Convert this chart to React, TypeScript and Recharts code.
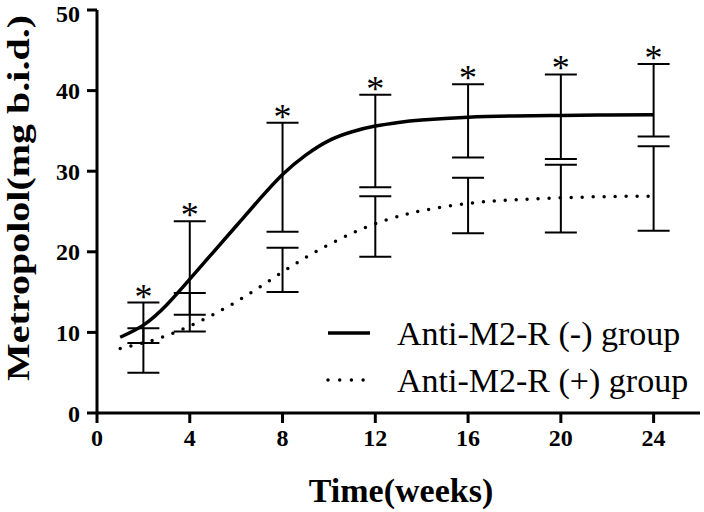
import {
  ComposedChart,
  Line,
  Scatter,
  ErrorBar,
  XAxis,
  YAxis,
  Label,
} from 'recharts';

// fitted curves
const fitWeeks = [1, 2, 3, 4, 5, 6, 7, 8, 9, 10, 11, 12, 13, 14, 16, 18, 20, 22, 24];
const negFit = [9.4, 10.9, 13.4, 16.6, 19.9, 23.2, 26.5, 29.6, 32.0, 33.8, 34.9, 35.6, 36.05, 36.35, 36.7, 36.85, 36.92, 36.97, 37.0];
const posFit = [8.0, 8.7, 9.6, 10.8, 12.2, 13.8, 15.6, 17.5, 19.3, 20.9, 22.3, 23.5, 24.4, 25.1, 26.0, 26.45, 26.7, 26.85, 26.9];

// error bars at the measured weeks
const weeks = [2, 4, 8, 12, 16, 20, 24];
const negLow = [8.7, 12.2, 22.5, 28.0, 31.7, 31.5, 34.3];
const negHigh = [13.7, 23.8, 36.0, 39.5, 40.8, 42.0, 43.3];
const posLow = [5.0, 10.1, 15.0, 19.4, 22.3, 22.4, 22.6];
const posHigh = [10.5, 14.9, 20.5, 26.9, 29.2, 30.8, 33.1];

const xTicks = [0, 4, 8, 12, 16, 20, 24];
const yTicks = [0, 10, 20, 30, 40, 50];

const FONT = '"Liberation Serif", "Times New Roman", serif';

const negLine = fitWeeks.map((x, i) => ({ x, y: negFit[i] }));
const posLine = fitWeeks.map((x, i) => ({ x, y: posFit[i] }));

const toBars = (lo: number[], hi: number[]) =>
  weeks.map((x, i) => {
    const mid = (lo[i] + hi[i]) / 2;
    return { x, y: mid, err: [mid - lo[i], hi[i] - mid] };
  });

const negBars = toBars(negLow, negHigh);
const posBars = toBars(posLow, posHigh);
const stars = weeks.map((x, i) => ({ x, y: negHigh[i] }));

const Empty = () => <g />;

const Star = (props: any) => (
  <text
    x={props.cx}
    y={props.cy + 6}
    textAnchor="middle"
    fontSize={36}
    fontFamily={FONT}
    fill="#000"
  >
    *
  </text>
);

const tickStyle = { fill: '#000', fontSize: 24, fontWeight: 'bold', fontFamily: FONT };

export default function App() {
  return (
    <div style={{ position: 'absolute', left: 0, top: 0, width: 704, height: 512, background: '#fff' }}>
      <ComposedChart width={704} height={512} margin={{ top: 10, right: 4, bottom: 0, left: 0 }}>
        <XAxis
          type="number"
          dataKey="x"
          domain={[0, 26]}
          ticks={xTicks}
          height={99}
          tick={tickStyle}
          tickSize={10}
          tickMargin={6}
          axisLine={{ stroke: '#000', strokeWidth: 3 }}
          tickLine={{ stroke: '#000', strokeWidth: 3 }}
        >
          <Label
            content={() => (
              <text x={401} y={502} textAnchor="middle" fontSize={34} fontWeight="bold" fontFamily={FONT} fill="#000">
                Time(weeks)
              </text>
            )}
          />
        </XAxis>
        <YAxis
          type="number"
          dataKey="y"
          domain={[0, 50]}
          ticks={yTicks}
          width={97}
          tick={tickStyle}
          tickSize={10}
          tickMargin={7}
          axisLine={{ stroke: '#000', strokeWidth: 3 }}
          tickLine={{ stroke: '#000', strokeWidth: 3 }}
        >
          <Label
            content={() => (
              <text
                x={29}
                y={198}
                transform="rotate(-90, 29, 198)"
                textAnchor="middle"
                fontSize={32}
                fontWeight="bold"
                fontFamily={FONT}
                fill="#000"
                textLength={366}
                lengthAdjust="spacingAndGlyphs"
              >
                Metropolol(mg b.i.d.)
              </text>
            )}
          />
        </YAxis>

        <Line
          data={negLine}
          dataKey="y"
          type="natural"
          stroke="#000"
          strokeWidth={3.5}
          dot={false}
          isAnimationActive={false}
        />
        <Line
          data={posLine}
          dataKey="y"
          type="natural"
          stroke="#000"
          strokeWidth={3.5}
          strokeDasharray="0 11"
          strokeLinecap="round"
          dot={false}
          isAnimationActive={false}
        />

        <Scatter data={negBars} dataKey="y" shape={Empty} isAnimationActive={false}>
          <ErrorBar dataKey="err" direction="y" width={16} stroke="#000" strokeWidth={2} isAnimationActive={false} />
        </Scatter>
        <Scatter data={posBars} dataKey="y" shape={Empty} isAnimationActive={false}>
          <ErrorBar dataKey="err" direction="y" width={16} stroke="#000" strokeWidth={2} isAnimationActive={false} />
        </Scatter>
        <Scatter data={stars} dataKey="y" shape={Star} isAnimationActive={false} />
      </ComposedChart>

      <svg width={704} height={512} style={{ position: 'absolute', left: 0, top: 0, pointerEvents: 'none' }}>
        <line x1={328} y1={333} x2={370} y2={333} stroke="#000" strokeWidth={3.5} />
        <line x1={328} y1={380} x2={370} y2={380} stroke="#000" strokeWidth={3.5} strokeDasharray="0 11.7" strokeLinecap="round" />
        <text x={397} y={345} fontSize={34} fontFamily={FONT} fill="#000">Anti-M2-R (-) group</text>
        <text x={397} y={392} fontSize={34} fontFamily={FONT} fill="#000">Anti-M2-R (+) group</text>
      </svg>
    </div>
  );
}
